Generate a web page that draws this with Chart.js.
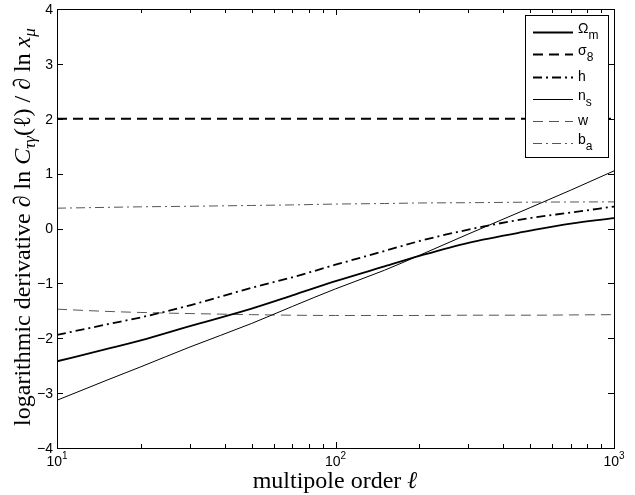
<!DOCTYPE html>
<html>
<head>
<meta charset="utf-8">
<script src="https://cdn.jsdelivr.net/npm/chart.js@4"></script>
<style>
  body { margin: 0; background: #fff; }
  canvas { display: block; }
</style>
</head>
<body>
<canvas id="c" width="635" height="495"></canvas>
<script>
// multipole order and the six logarithmic derivatives
const ell     = [10, 15, 20, 30, 50, 70, 100, 150, 200, 300, 500, 700, 1000];
const omegaM  = [-2.42, -2.2, -2.04, -1.78, -1.46, -1.22, -0.96, -0.69, -0.50, -0.26, -0.04, 0.09, 0.19];
const sigma8  = [2, 2, 2, 2, 2, 2, 2, 2, 2, 2, 2, 2, 2];
const hubble  = [-1.94, -1.75, -1.62, -1.40, -1.08, -0.89, -0.66, -0.41, -0.23, -0.02, 0.19, 0.29, 0.40];
const nS      = [-3.13, -2.77, -2.52, -2.16, -1.73, -1.42, -1.10, -0.76, -0.49, -0.10, 0.38, 0.70, 1.05];
const wDE     = [-1.47, -1.51, -1.53, -1.55, -1.57, -1.58, -1.585, -1.585, -1.585, -1.58, -1.58, -1.575, -1.57];
const bA      = [0.37, 0.385, 0.395, 0.405, 0.42, 0.43, 0.445, 0.455, 0.465, 0.47, 0.48, 0.483, 0.485];

const yTicks = [-4, -3, -2, -1, 0, 1, 2, 3, 4];
const xMajor = [10, 100, 1000];
const xMinor = [20, 30, 40, 50, 60, 70, 80, 90, 200, 300, 400, 500, 600, 700, 800, 900];

const legendItems = [
    { main: 'Ω', sub: 'm' },
    { main: 'σ', sub: '8' },
    { main: 'h', sub: '' },
    { main: 'n', sub: 's' },
    { main: 'w', sub: '' },
    { main: 'b', sub: 'a' }
];

const SANS = '"Liberation Sans", Arial, sans-serif';
const SERIF = '"Liberation Serif", "Times New Roman", serif';
const DASH = [10, 6];
const DASHDOT = [9, 4, 2, 4];

function series(values, color, width, dash) {
    return {
        data: ell.map((x, i) => ({ x: x, y: values[i] })),
        borderColor: color,
        borderWidth: width,
        borderDash: dash,
        pointRadius: 0,
        fill: false,
        cubicInterpolationMode: 'monotone'
    };
}

// draw a run of text pieces with own fonts and vertical offsets
function drawRich(ctx, parts, x, y, align) {
    let total = 0;
    parts.forEach(p => { ctx.font = p.font; total += ctx.measureText(p.text).width; });
    let cx = align === 'center' ? x - total / 2 : (align === 'right' ? x - total : x);
    ctx.textAlign = 'left';
    ctx.textBaseline = 'alphabetic';
    parts.forEach(p => {
        ctx.font = p.font;
        ctx.fillText(p.text, cx, y + (p.dy || 0));
        cx += ctx.measureText(p.text).width;
    });
}

const framePlugin = {
    id: 'frame',
    afterDatasetsDraw(chart) {
        const ctx = chart.ctx;
        const ds = chart.data.datasets;
        // legend box
        const bx = 525.5, by = 15.5, bw = 83, bh = 142;
        ctx.save();
        ctx.fillStyle = '#fff';
        ctx.fillRect(bx, by, bw, bh);
        ctx.strokeStyle = '#000';
        ctx.lineWidth = 1;
        ctx.strokeRect(bx, by, bw, bh);
        const rows = [32, 54, 77, 99, 121, 143];
        legendItems.forEach((it, i) => {
            const y = rows[i];
            ctx.beginPath();
            ctx.strokeStyle = ds[i].borderColor;
            ctx.lineWidth = ds[i].borderWidth;
            ctx.setLineDash(ds[i].borderDash || []);
            ctx.moveTo(533, y + 0.5);
            ctx.lineTo(573, y + 0.5);
            ctx.stroke();
            ctx.setLineDash([]);
            ctx.fillStyle = '#000';
            const base = it.sub ? y + 1 : y + 4;
            drawRich(ctx, [
                { text: it.main, font: '14px ' + SANS },
                { text: it.sub, font: '12px ' + SANS, dy: 6 }
            ], 578, base, 'left');
        });
        ctx.restore();
    },
    afterDraw(chart) {
        const ctx = chart.ctx;
        const a = chart.chartArea;
        const xs = chart.scales.x, ys = chart.scales.y;
        ctx.save();
        ctx.strokeStyle = '#000';
        ctx.lineWidth = 1;
        ctx.strokeRect(Math.round(a.left) + 0.5, Math.round(a.top) + 0.5,
            Math.round(a.right - a.left), Math.round(a.bottom - a.top));
        ctx.beginPath();
        yTicks.forEach(v => {
            const py = Math.round(ys.getPixelForValue(v)) + 0.5;
            ctx.moveTo(a.left, py); ctx.lineTo(a.left + 6, py);
            ctx.moveTo(a.right, py); ctx.lineTo(a.right - 6, py);
        });
        xMajor.forEach(v => {
            const px = Math.round(xs.getPixelForValue(v)) + 0.5;
            ctx.moveTo(px, a.bottom); ctx.lineTo(px, a.bottom - 6);
            ctx.moveTo(px, a.top); ctx.lineTo(px, a.top + 6);
        });
        xMinor.forEach(v => {
            const px = Math.round(xs.getPixelForValue(v)) + 0.5;
            ctx.moveTo(px, a.bottom); ctx.lineTo(px, a.bottom - 4);
            ctx.moveTo(px, a.top); ctx.lineTo(px, a.top + 4);
        });
        ctx.stroke();

        // tick labels
        ctx.fillStyle = '#000';
        ctx.font = '14px ' + SANS;
        ctx.textAlign = 'right';
        ctx.textBaseline = 'middle';
        yTicks.forEach(v => {
            const label = v < 0 ? '\u2212' + Math.abs(v) : String(v);
            ctx.fillText(label, a.left - 4, ys.getPixelForValue(v) + 1);
        });
        xMajor.forEach(v => {
            const exp = String(Math.round(Math.log10(v)));
            drawRich(ctx, [
                { text: '10', font: '14px ' + SANS },
                { text: exp, font: '10px ' + SANS, dy: -7 }
            ], xs.getPixelForValue(v), 466, 'center');
        });

        // axis titles
        drawRich(ctx, [
            { text: 'multipole order ', font: '24px ' + SERIF },
            { text: 'ℓ', font: 'italic 24px ' + SERIF }
        ], 335, 488, 'center');

        ctx.translate(30, 227);
        ctx.rotate(-Math.PI / 2);
        drawRich(ctx, [
            { text: 'logarithmic derivative ∂ ln ', font: '24px ' + SERIF },
            { text: 'C', font: 'italic 24px ' + SERIF },
            { text: 'τγ', font: 'italic 17px ' + SERIF, dy: 5 },
            { text: '(ℓ) / ∂ ln ', font: '24px ' + SERIF },
            { text: 'x', font: 'italic 24px ' + SERIF },
            { text: 'μ', font: 'italic 17px ' + SERIF, dy: 5 }
        ], 0, 0, 'center');
        ctx.restore();
    }
};

new Chart(document.getElementById('c'), {
    type: 'line',
    data: {
        datasets: [
            series(omegaM, '#000', 1.8, []),
            series(sigma8, '#000', 1.8, DASH),
            series(hubble, '#000', 1.8, DASHDOT),
            series(nS, '#000', 1, []),
            series(wDE, '#555', 1, DASH),
            series(bA, '#555', 1, DASHDOT)
        ]
    },
    options: {
        responsive: false,
        devicePixelRatio: 1,
        animation: false,
        layout: { padding: { left: 57, right: 21, top: 9, bottom: 47 } },
        scales: {
            x: { type: 'logarithmic', min: 10, max: 1000, display: false },
            y: { type: 'linear', min: -4, max: 4, display: false }
        },
        plugins: { legend: { display: false }, tooltip: { enabled: false } }
    },
    plugins: [framePlugin]
});
</script>
</body>
</html>
